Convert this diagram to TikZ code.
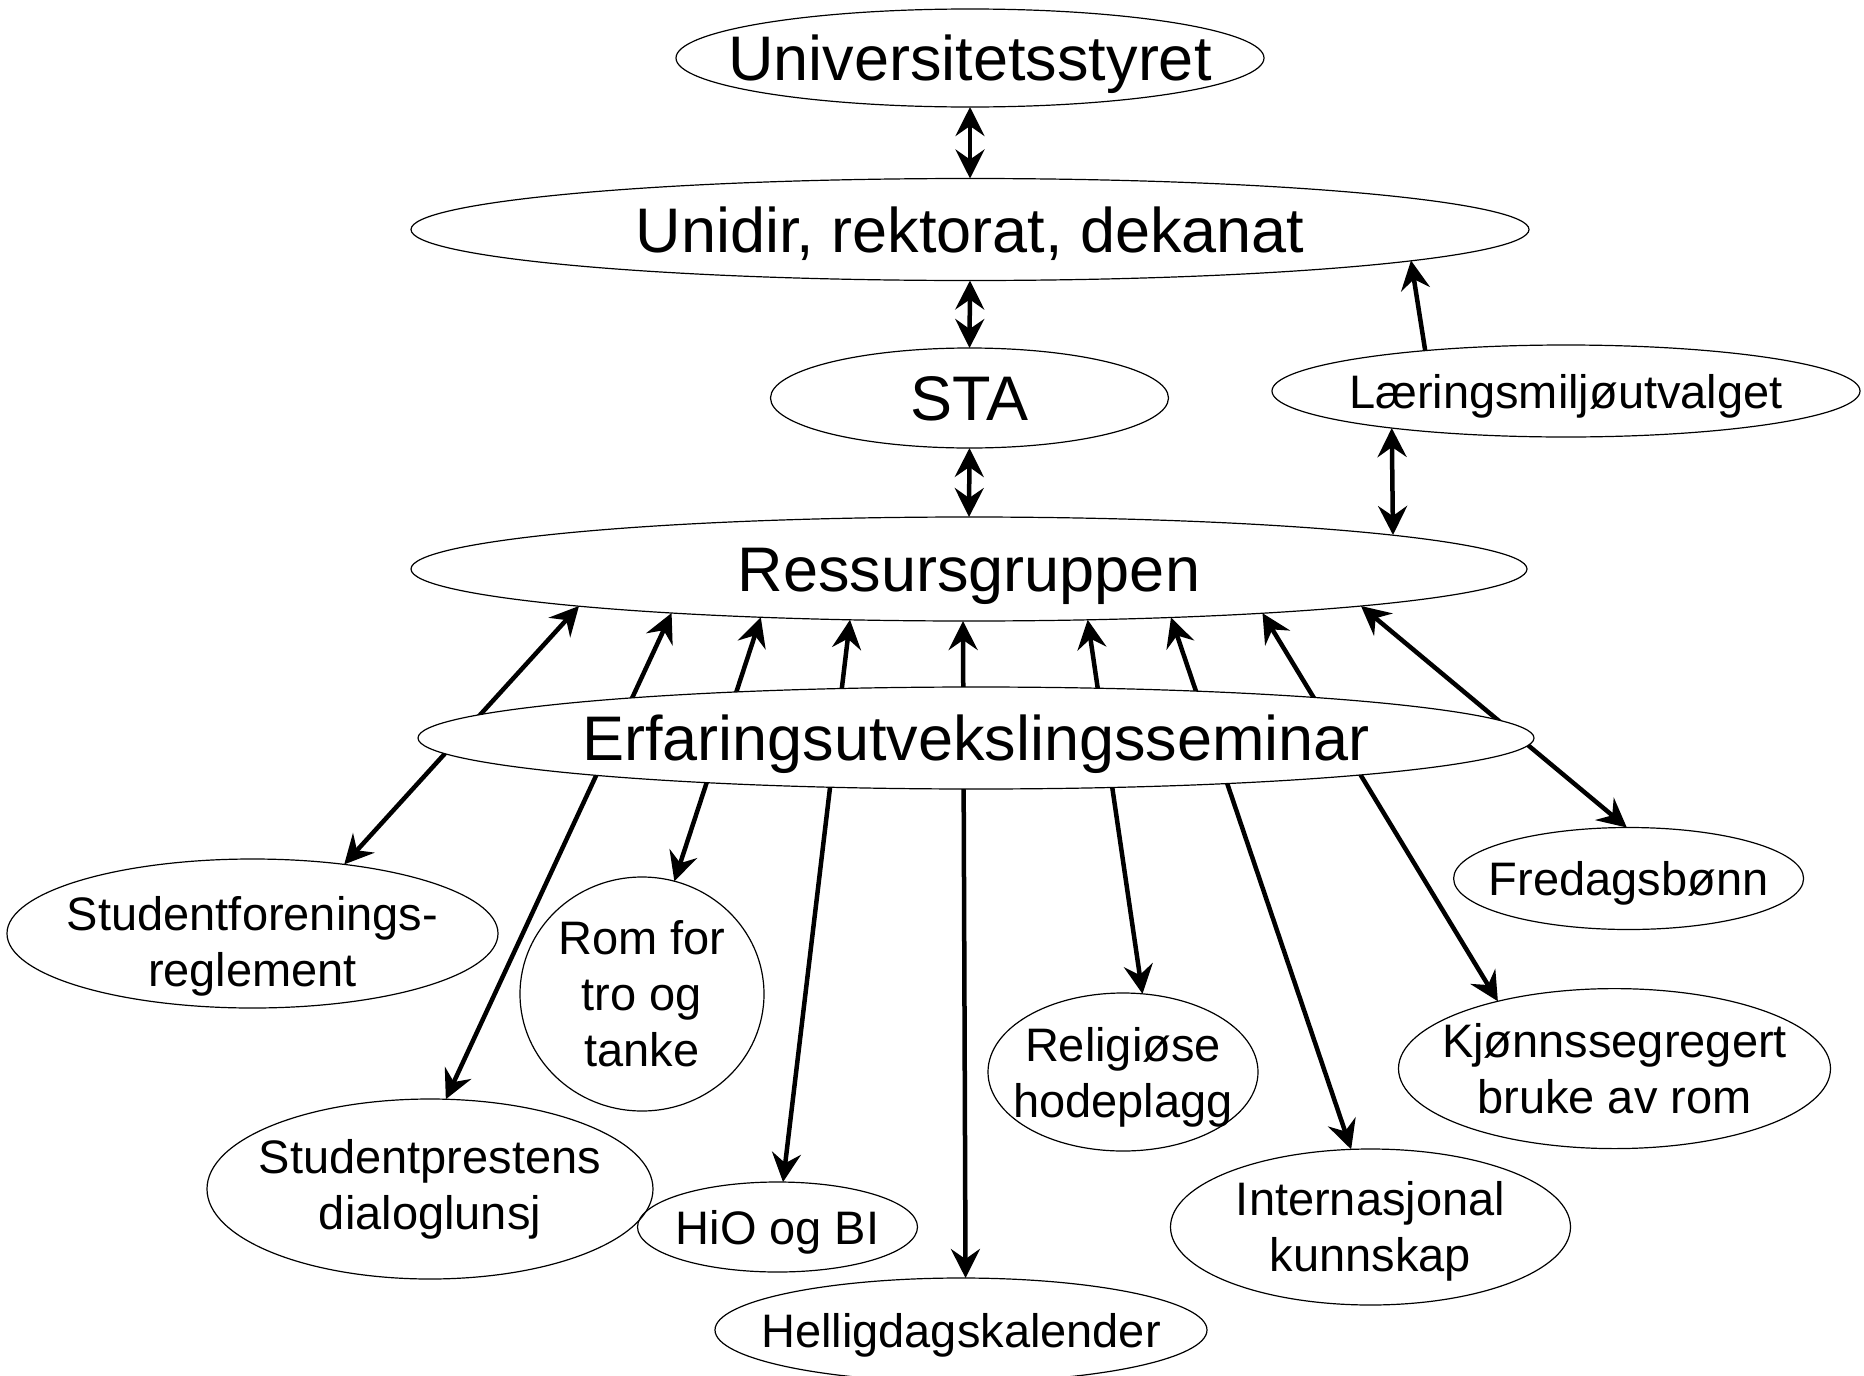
\documentclass[tikz,border=0pt]{standalone}
\usepackage{fontspec}
\setmainfont{Liberation Sans}
\usetikzlibrary{shapes.geometric,arrows.meta,calc}

\tikzset{
  oval/.style={ellipse,draw,line width=1.2pt,inner sep=0pt,outer sep=0pt},
  word/.style={font=\fontsize{47}{56}\selectfont,align=center,inner sep=0pt},
  flatword/.style={word,text height=34pt,text depth=0pt},
  bigword/.style={word,font=\fontsize{63}{70}\selectfont,text height=45pt,text depth=0pt},
  link/.style={line width=4.5pt,{Stealth[length=29pt,width=29pt,inset=10pt]}-{Stealth[length=29pt,width=29pt,inset=10pt]}},
  oneway/.style={line width=4.5pt,-{Stealth[length=29pt,width=29pt,inset=10pt]}}
}

\begin{document}
\begin{tikzpicture}[x=1pt,y=-1pt]
  \useasboundingbox (0,0) rectangle (1864,1376);

  % the chain at the top
  \node[oval,minimum width=588pt,minimum height=98pt,label={[bigword]center:Universitetsstyret}] (styret) at (970,58) {};
  \node[oval,minimum width=1118pt,minimum height=102pt,label={[bigword]center:{Unidir, rektorat, dekanat}}] (unidir) at (970,229.5) {};
  \node[oval,minimum width=398pt,minimum height=100pt,label={[bigword]center:STA}] (sta) at (969.5,398) {};
  \node[oval,minimum width=588pt,minimum height=92pt,label={[flatword]center:Læringsmiljøutvalget}] (lmu) at (1566,391) {};
  \node[oval,minimum width=1116pt,minimum height=104pt,label={[bigword]center:Ressursgruppen}] (ressurs) at (969,569) {};

  % the topics below
  \node[oval,minimum width=491pt,minimum height=149pt,label={[word,yshift=-13pt]center:Studentforenings-\\reglement}] (forening) at (252.5,933.5) {};
  \node[oval,minimum width=244pt,minimum height=234pt,label={[word]center:Rom for\\tro og\\tanke}] (rom) at (642,994) {};
  \node[oval,minimum width=446pt,minimum height=180pt,label={[word]center:Studentprestens\\dialoglunsj}] (prest) at (430,1189) {};
  \node[oval,minimum width=280pt,minimum height=90pt,label={[flatword]center:HiO og BI}] (hio) at (777.5,1227) {};
  \node[oval,minimum width=492pt,minimum height=104pt,label={[flatword]center:Helligdagskalender}] (kalender) at (961,1330) {};
  \node[oval,minimum width=270pt,minimum height=158pt,label={[word,yshift=-5pt]center:Religiøse\\hodeplagg}] (hodeplagg) at (1123,1072) {};
  \node[oval,minimum width=400pt,minimum height=156pt,label={[word,yshift=-4pt]center:Internasjonal\\kunnskap}] (intl) at (1370.5,1227) {};
  \node[oval,minimum width=432pt,minimum height=160pt,label={[word]center:Kjønnssegregert\\bruke av rom}] (kjonn) at (1614.5,1068.6) {};
  \node[oval,minimum width=350pt,minimum height=102pt,label={[flatword]center:Fredagsbønn}] (fredag) at (1628.6,878.5) {};

  \draw[link] (styret.south) -- (unidir.north);
  \draw[link] (unidir.south) -- (sta.north);
  \draw[link] (sta.south) -- (ressurs.north);
  \draw[link] ($(ressurs)+(424,-34)$) -- (lmu.192.35);
  \draw[oneway] (lmu.164.3) -- ($(unidir)+(441,31)$);

  \draw[link] ($(ressurs)+(-390,37)$) -- (forening.37.9);
  \draw[link] ($(ressurs)+(-297.4,44)$) -- (prest.80.2);
  \draw[link] ($(ressurs)+(-208.2,48.3)$) -- (rom.74.7);
  \draw[link] ($(ressurs)+(-119,50.8)$) -- (hio.83.8);
  \draw[link] ($(ressurs)+(-6,52)$) -- (kalender.85.6);
  \draw[link] ($(ressurs)+(118.7,50.8)$) -- (hodeplagg.76.7);
  \draw[link] ($(ressurs)+(202,48.5)$) -- (intl.104.7);
  \draw[link] ($(ressurs)+(293.5,44.2)$) -- (kjonn.150);
  \draw[link] ($(ressurs)+(392,37)$) -- (fredag.92.7);

  % the seminar sits on top of the links
  \node[oval,fill=white,minimum width=1116pt,minimum height=102pt,label={[bigword]center:Erfaringsutvekslingsseminar}] (seminar) at (976,738) {};
\end{tikzpicture}
\end{document}
